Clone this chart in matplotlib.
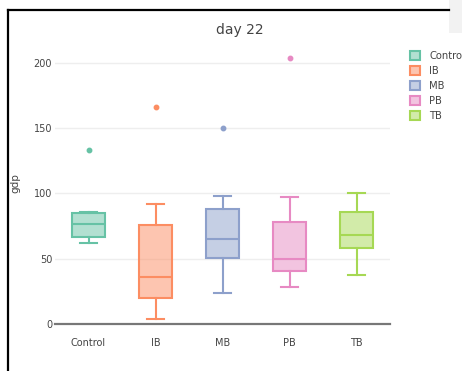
import matplotlib
matplotlib.use("Agg")
import matplotlib.pyplot as plt
from matplotlib.patches import Patch, Rectangle
from matplotlib.lines import Line2D

## box summary per group (gdp, day 22)
groups = ["Control", "IB", "MB", "PB", "TB"]
whis_lo = [62.4, 4.3, 23.7, 28.8, 37.7]
q1 = [66.5, 19.9, 50.9, 40.7, 58.3]
medians = [76.7, 35.9, 65.0, 49.9, 68.3]
q3 = [84.9, 75.9, 87.9, 78.2, 86.1]
whis_hi = [86.1, 91.7, 98.1, 97.3, 100.1]
outliers = [[133.5], [166.5], [150.0], [203.4], []]
colors = ["#66c2a5", "#fc8d62", "#8da0cb", "#e78ac3", "#a6d854"]
yticks = [0, 50, 100, 150, 200]

W, H = 462, 371
fig = plt.figure(figsize=(W / 100, H / 100), dpi=100)
fig.patch.set_facecolor("white")

# plot area in pixels: left 55, right 390, zero line at 324, top 50
ax = fig.add_axes([55 / W, (H - 324.3) / H, 335 / W, 274.3 / H])

stats = []
for i, g in enumerate(groups):
	stats.append(dict(label=g, whislo=whis_lo[i], q1=q1[i], med=medians[i],
					  q3=q3[i], whishi=whis_hi[i], fliers=outliers[i]))

lw = 1.5
for i, st in enumerate(stats):
	c = colors[i]
	ax.bxp([st], positions=[i], widths=0.5, capwidths=0.25, patch_artist=True,
		   showfliers=True, manage_ticks=False,
		   boxprops=dict(facecolor=matplotlib.colors.to_rgba(c, 0.5), edgecolor=c, linewidth=lw),
		   medianprops=dict(color=c, linewidth=lw),
		   whiskerprops=dict(color=c, linewidth=lw),
		   capprops=dict(color=c, linewidth=lw),
		   flierprops=dict(marker="o", markersize=3.2, markerfacecolor=c, markeredgecolor=c))

ax.set_xlim(-0.5, 4.5)
ax.set_ylim(0, 209.7)
ax.set_xticks(range(len(groups)))
ax.set_xticklabels(groups)
ax.set_yticks(yticks)
ax.grid(axis="y", color="#eeeeee", linewidth=1)
ax.set_axisbelow(True)
for side in ["top", "right", "left"]:
	ax.spines[side].set_visible(False)
ax.spines["bottom"].set_color("#777777")
ax.spines["bottom"].set_linewidth(1.6)
ax.tick_params(axis="both", length=0, labelsize=7, colors="#444444")
ax.tick_params(axis="x", pad=10)
ax.tick_params(axis="y", pad=2)
ax.set_ylabel("gdp", fontsize=7.5, color="#444444")
ax.yaxis.set_label_coords(-35 / 335, 0.515)

fig.text(240 / W, 1 - 30 / H, "day 22", ha="center", va="center", fontsize=10, color="#444444")

# legend
handles = [Patch(facecolor=matplotlib.colors.to_rgba(c, 0.5), edgecolor=c, linewidth=1.5) for c in colors]
fig.legend(handles, groups, loc="upper left", bbox_to_anchor=(406 / W, 1 - 47 / H),
		   frameon=False, fontsize=7.2, handlelength=1.0, handleheight=1.0,
		   labelspacing=0.5, handletextpad=0.9, labelcolor="#444444", borderaxespad=0)

# screenshot frame
fig.add_artist(Line2D([8 / W, 8 / W], [0, 1 - 10 / H], color="black", linewidth=1.6))
fig.add_artist(Line2D([8 / W, 449 / W], [1 - 10 / H, 1 - 10 / H], color="black", linewidth=1.6))
fig.add_artist(Rectangle((449 / W, 1 - 33 / H), 13 / W, 33 / H, facecolor="#f2f2f2", edgecolor="none"))

fig.savefig("out.png", dpi=100)
